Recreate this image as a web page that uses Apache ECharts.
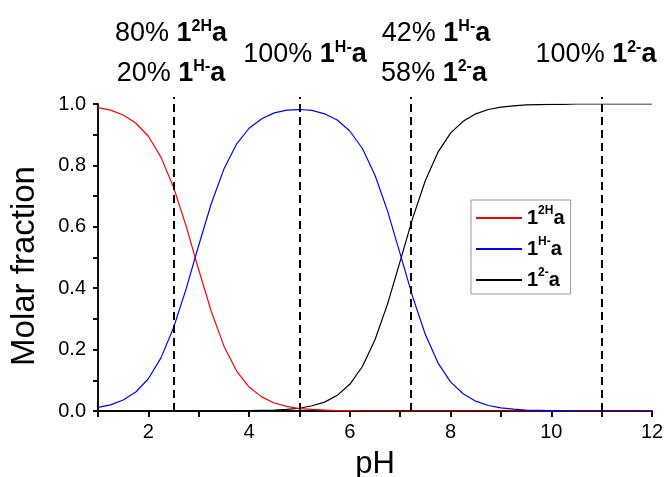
<!DOCTYPE html>
<html>
<head>
<meta charset="utf-8">
<script src="https://cdn.jsdelivr.net/npm/echarts@6/dist/echarts.min.js"></script>
<style>
html,body{margin:0;padding:0;background:#fff;}
#chart{width:664px;height:477px;}
</style>
</head>
<body>
<div id="chart"></div>
<script>
// ---- data ----
const phValues = [1,1.25,1.5,1.75,2,2.25,2.5,2.75,3,3.25,3.5,3.75,4,4.25,4.5,4.75,5,5.25,5.5,5.75,6,6.25,6.5,6.75,7,7.25,7.5,7.75,8,8.25,8.5,8.75,9,9.25,9.5,9.75,10,10.25,10.5,10.75,11,11.25,11.5,11.75,12];
const fracH2A = [0.988,0.980,0.964,0.938,0.895,0.827,0.729,0.602,0.460,0.324,0.212,0.131,0.078,0.046,0.026,0.015,0.008,0.005,0.003,0.001,0.001,0,0,0,0,0,0,0,0,0,0,0,0,0,0,0,0,0,0,0,0,0,0,0,0];
const fracHA  = [0.012,0.020,0.036,0.062,0.105,0.173,0.271,0.398,0.540,0.676,0.788,0.869,0.921,0.952,0.971,0.980,0.982,0.979,0.968,0.948,0.912,0.855,0.768,0.651,0.512,0.371,0.249,0.157,0.095,0.056,0.032,0.018,0.010,0.006,0.003,0.002,0.001,0.001,0,0,0,0,0,0,0];
const fracA   = [0,0,0,0,0,0,0,0,0,0,0,0,0.001,0.002,0.003,0.005,0.009,0.017,0.029,0.051,0.087,0.145,0.232,0.349,0.488,0.629,0.751,0.843,0.905,0.944,0.968,0.982,0.990,0.994,0.997,0.998,0.999,0.999,1,1,1,1,1,1,1];
const dashPH = [2.5, 5, 7.2, 11];
const speciesSup = {H2A: '2H', HA: 'H-', A: '2-'};
// annotation texts: [percent text, superscript]
const annoTexts = [
  ['80% ', '2H'], ['20% ', 'H-'], ['100% ', 'H-'],
  ['42% ', 'H-'], ['58% ', '2-'], ['100% ', '2-']
];

const FONT = '"Liberation Sans", Arial, Helvetica, sans-serif';
const chart = echarts.init(document.getElementById('chart'), null, {renderer: 'canvas'});

function pairs(vals) { return phValues.map((x, i) => [x, vals[i]]); }

const annoRich = {
  n: {fontFamily: FONT, fontSize: 27, lineHeight: 30, color: '#000'},
  b: {fontFamily: FONT, fontSize: 27, fontWeight: 'bold', lineHeight: 30, color: '#000'},
  s: {fontFamily: FONT, fontSize: 16, fontWeight: 'bold', lineHeight: 12, verticalAlign: 'top', color: '#000'}
};
const annoPos = [[171, 34], [171, 74], [305, 55], [436, 34], [434, 74], [596, 55]];
const graphics = annoTexts.map((t, i) => ({
  type: 'text',
  x: annoPos[i][0],
  y: annoPos[i][1],
  silent: true,
  style: {
    text: '{n|' + t[0] + '}{b|1}{s|' + t[1] + '}{b|a}',
    rich: annoRich,
    align: 'center', verticalAlign: 'middle',
    textAlign: 'center', textVerticalAlign: 'middle',
    fill: '#000'
  }
}));

const option = {
  animation: false,
  backgroundColor: '#fff',
  grid: [
    {left: 98, right: 12, top: 104, bottom: 66, containLabel: false, outerBoundsMode: 'none'},
    {left: 98, right: 12, top: 97, bottom: 66, containLabel: false, outerBoundsMode: 'none'}
  ],
  xAxis: [
    {
      type: 'value', gridIndex: 0, min: 1, max: 12, interval: 1,
      name: 'pH', nameLocation: 'middle', nameGap: 38,
      nameTextStyle: {fontFamily: FONT, fontSize: 31, color: '#000'},
      axisLine: {show: true, onZero: false, lineStyle: {color: '#111', width: 2}},
      axisTick: {show: true, inside: false, length: 6, lineStyle: {color: '#111', width: 2}},
      axisLabel: {
        fontFamily: FONT, fontSize: 20, color: '#000', margin: 11,
        formatter: v => (v % 2 === 0 ? String(v) : '')
      },
      splitLine: {show: false}
    },
    {type: 'value', gridIndex: 1, min: 1, max: 12, show: false}
  ],
  yAxis: [
    {
      type: 'value', gridIndex: 0, min: 0, max: 1, interval: 0.2,
      name: 'Molar fraction', nameLocation: 'middle', nameGap: 57,
      nameTextStyle: {fontFamily: FONT, fontSize: 33, color: '#000', padding: [0, 17, 0, 0]},
      axisLine: {show: true, onZero: false, lineStyle: {color: '#111', width: 2}},
      axisTick: {show: true, inside: false, length: 5, lineStyle: {color: '#111', width: 2}},
      minorTick: {show: true, splitNumber: 2, length: 5, lineStyle: {color: '#111', width: 2}},
      axisLabel: {fontFamily: FONT, fontSize: 20, color: '#000', margin: 12, formatter: v => v.toFixed(1)},
      splitLine: {show: false}
    },
    {type: 'value', gridIndex: 1, min: 0, max: 1, show: false}
  ],
  legend: {
    orient: 'vertical',
    left: 471, top: 200,
    padding: [5, 6, 4, 5],
    itemGap: 8,
    itemWidth: 46, itemHeight: 2,
    borderColor: '#999', borderWidth: 1,
    icon: 'rect',
    data: [{name: 'H2A'}, {name: 'HA'}, {name: 'A'}],
    formatter: name => '{b|1}{s|' + speciesSup[name] + '}{b|a}',
    textStyle: {
      rich: {
        b: {fontFamily: FONT, fontSize: 20, fontWeight: 'bold', lineHeight: 26, color: '#000'},
        s: {fontFamily: FONT, fontSize: 12, fontWeight: 'bold', lineHeight: 10, verticalAlign: 'top', color: '#000'}
      }
    }
  },
  graphic: graphics,
  series: [
    {
      name: 'A', type: 'line', xAxisIndex: 0, yAxisIndex: 0,
      data: pairs(fracA), showSymbol: false, symbol: 'none',
      lineStyle: {color: '#000', width: 1.2}, itemStyle: {color: '#000'}, z: 2
    },
    {
      name: 'H2A', type: 'line', xAxisIndex: 0, yAxisIndex: 0,
      data: pairs(fracH2A), showSymbol: false, symbol: 'none',
      lineStyle: {color: '#ff0000', width: 1.2}, itemStyle: {color: '#ff0000'}, z: 3
    },
    {
      name: 'HA', type: 'line', xAxisIndex: 0, yAxisIndex: 0,
      data: pairs(fracHA), showSymbol: false, symbol: 'none',
      lineStyle: {color: '#0000ff', width: 1.2}, itemStyle: {color: '#0000ff'}, z: 4
    },
    {
      name: 'dashes', type: 'line', xAxisIndex: 1, yAxisIndex: 1,
      data: [], silent: true, z: 5,
      markLine: {
        silent: true, symbol: 'none', animation: false,
        label: {show: false},
        lineStyle: {color: '#000', width: 2, type: [8, 5]},
        data: dashPH.map(v => ({xAxis: v}))
      }
    }
  ]
};
chart.setOption(option);
</script>
</body>
</html>
